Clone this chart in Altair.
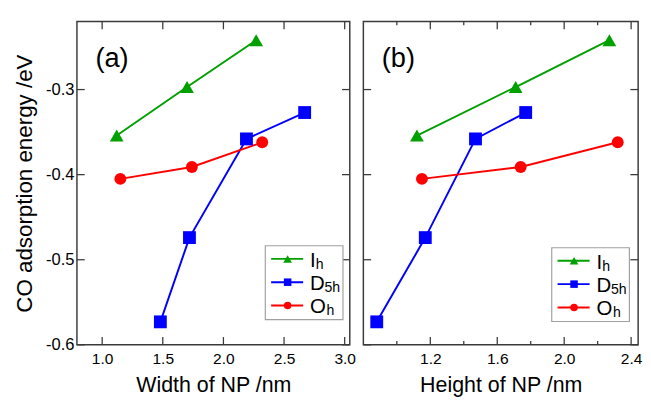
import altair as alt
import pandas as pd

# ---------------- data ----------------
series = ["Ih", "D5h", "Oh"]
colors = ["#00a000", "#0000ff", "#ff0000"]
shapes = ["triangle-up", "square", "circle"]
sizes = [200, 150, 140]

# energies (eV)
ih_e = [-0.354, -0.297, -0.242]
d5h_e = [-0.573, -0.474, -0.358, -0.327]
oh_e = [-0.405, -0.391, -0.362]

# panel (a): width of NP (nm)
ih_w = [1.12, 1.70, 2.27]
d5h_w = [1.48, 1.72, 2.19, 2.67]
oh_w = [1.15, 1.74, 2.32]

# panel (b): height of NP (nm)
ih_h = [1.12, 1.71, 2.27]
d5h_h = [0.88, 1.17, 1.47, 1.77]
oh_h = [1.15, 1.74, 2.32]

y_ticks = [-0.6, -0.5, -0.4, -0.3]
xa_ticks = [1.0, 1.5, 2.0, 2.5, 3.0]
xb_ticks = [1.2, 1.6, 2.0, 2.4]
xb_minor = [1.0, 1.4, 1.8, 2.2]

legend_main = ["I", "D", "O"]
legend_sub = ["h", "5h", "h"]

# ---------------- style ----------------
FONT = "Liberation Sans"
H = 333
FRAME = "#3a3a3a"
TICK_MAJOR = 8
TICK_MINOR = 4


def panel(xs_list, x_domain, x_ticks, x_minor, x_title, label, width, show_y, leg_dy):
    rows = []
    for s, xs, ys in zip(series, xs_list, [ih_e, d5h_e, oh_e]):
        for xv, yv in zip(xs, ys):
            rows.append({"series": s, "x": xv, "y": yv})
    df = pd.DataFrame(rows)

    xscale = alt.Scale(domain=x_domain, nice=False, zero=False)
    yscale = alt.Scale(domain=[-0.6, -0.22], nice=False, zero=False)
    xaxis = alt.Axis(values=x_ticks, format=".1f", ticks=False, domain=False, grid=False,
                     labelPadding=6, title=x_title, titlePadding=9)
    if show_y:
        yaxis = alt.Axis(values=y_ticks, format=".1f", ticks=False, domain=False, grid=False,
                         labelPadding=3, title="CO adsorption energy /eV", titlePadding=10,
                         titleFontSize=23, labelFontSize=17,
                         labelExpr="replace(datum.label, '\u2212', '-')")
    else:
        yaxis = None
    X = alt.X("x:Q", scale=xscale, axis=xaxis)
    Y = alt.Y("y:Q", scale=yscale, axis=yaxis)
    cscale = alt.Scale(domain=series, range=colors)

    base = alt.Chart(df)
    lines = base.mark_line(strokeWidth=2).encode(
        x=X, y=Y, color=alt.Color("series:N", scale=cscale, legend=None),
        order=alt.Order("x:Q"))
    points = base.mark_point(filled=True, opacity=1).encode(
        x=X, y=Y,
        color=alt.Color("series:N", scale=cscale, legend=None),
        shape=alt.Shape("series:N", scale=alt.Scale(domain=series, range=shapes), legend=None),
        size=alt.Size("series:N", scale=alt.Scale(domain=series, range=sizes), legend=None))

    layers = [lines, points]

    # inward ticks on all four sides
    xt = alt.Chart(pd.DataFrame({"x": x_ticks}))
    yt = alt.Chart(pd.DataFrame({"y": y_ticks}))
    rule = dict(color=FRAME, strokeWidth=1.3)
    layers += [
        xt.mark_rule(**rule).encode(x=X, y=alt.value(H), y2=alt.value(H - TICK_MAJOR)),
        xt.mark_rule(**rule).encode(x=X, y=alt.value(0), y2=alt.value(TICK_MAJOR)),
        yt.mark_rule(**rule).encode(y=Y, x=alt.value(0), x2=alt.value(TICK_MAJOR)),
        yt.mark_rule(**rule).encode(y=Y, x=alt.value(width), x2=alt.value(width - TICK_MAJOR)),
    ]
    if x_minor:
        xm = alt.Chart(pd.DataFrame({"x": x_minor}))
        layers += [
            xm.mark_rule(**rule).encode(x=X, y=alt.value(H), y2=alt.value(H - TICK_MINOR)),
            xm.mark_rule(**rule).encode(x=X, y=alt.value(0), y2=alt.value(TICK_MINOR)),
        ]

    one = alt.Chart(pd.DataFrame({"a": [0]}))
    # panel label
    layers.append(one.mark_text(text=label, font=FONT, fontSize=28, align="left",
                                baseline="middle", color="black").encode(
        x=alt.value(19), y=alt.value(39)))

    # legend
    bx0, bx1, by0, by1 = 194, 274, 231 + leg_dy, 307 + leg_dy
    layers.append(one.mark_rect(fill="white", stroke="#a0a0a0", strokeWidth=1.2).encode(
        x=alt.value(bx0), x2=alt.value(bx1), y=alt.value(by0), y2=alt.value(by1)))
    row_y = [244.5, 268.5, 292.5]
    sub_x = [246, 255, 257]
    leg_sizes = [80, 60, 60]
    for i in range(3):
        ry = row_y[i] + leg_dy
        layers.append(one.mark_rule(color=colors[i], strokeWidth=2).encode(
            x=alt.value(200), x2=alt.value(233), y=alt.value(ry)))
        layers.append(one.mark_point(filled=True, opacity=1, color=colors[i],
                                     shape=shapes[i], size=leg_sizes[i]).encode(
            x=alt.value(217), y=alt.value(ry)))
        layers.append(one.mark_text(text=legend_main[i], font=FONT, fontSize=21, align="left",
                                    baseline="alphabetic", color="black").encode(
            x=alt.value(240), y=alt.value(ry + 8)))
        layers.append(one.mark_text(text=legend_sub[i], font=FONT, fontSize=14.5, align="left",
                                    baseline="alphabetic", color="black").encode(
            x=alt.value(sub_x[i]), y=alt.value(ry + 10)))

    return alt.layer(*layers).properties(width=width, height=H)


left = panel([ih_w, d5h_w, oh_w], [0.792, 3.042], xa_ticks, None,
             "Width of NP /nm", "(a)", 281, True, 0)
right = panel([ih_h, d5h_h, oh_h], [0.80, 2.442], xb_ticks, xb_minor,
              "Height of NP /nm", "(b)", 283, False, 2)

chart = alt.hconcat(left, right, spacing=5).properties(
    padding={"left": 4, "top": 6, "right": 0, "bottom": 0},
    background="white",
).configure_view(
    stroke=FRAME, strokeWidth=1.5
).configure_axis(
    labelFont=FONT, titleFont=FONT, labelFontSize=16, titleFontSize=22,
    labelColor="black", titleColor="black", titleFontWeight="normal"
)

chart.save("out.html", embed_options={"renderer": "svg", "actions": False})
